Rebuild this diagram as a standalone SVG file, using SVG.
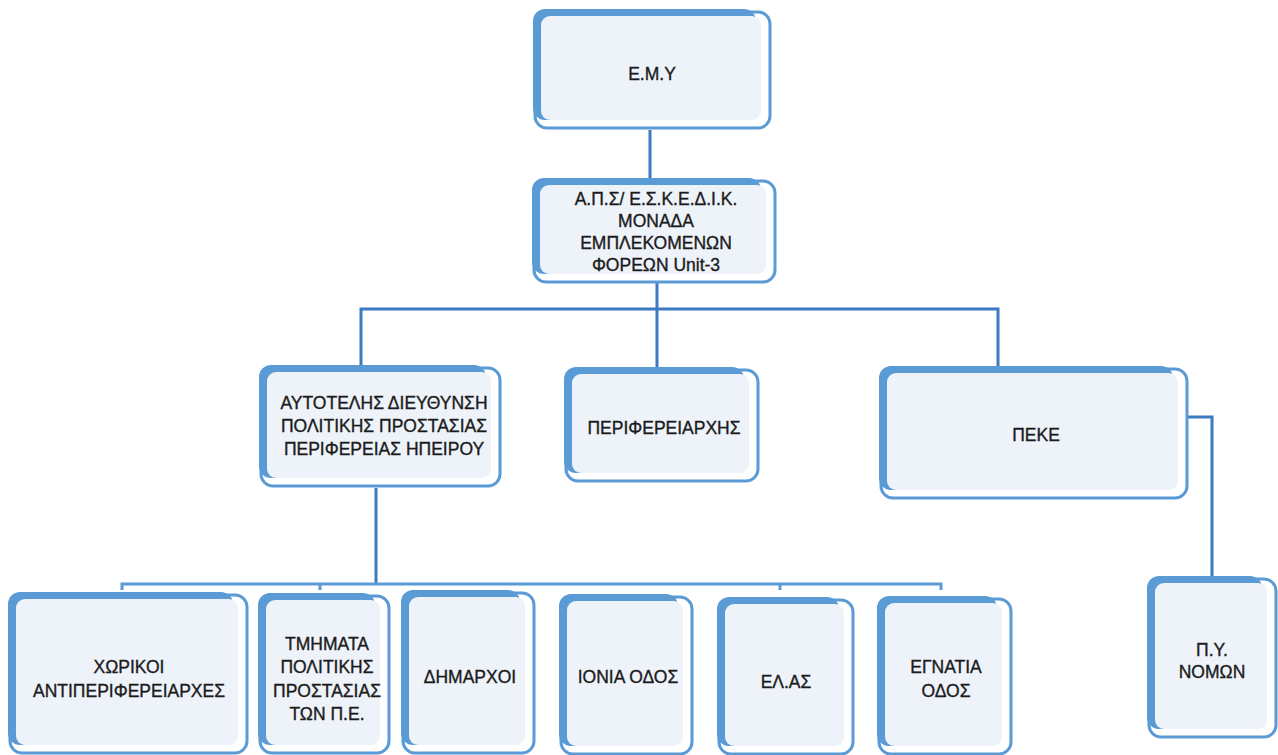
<svg xmlns="http://www.w3.org/2000/svg" width="1278" height="755" viewBox="0 0 1278 755">
<style>
.frame{fill:#ffffff;stroke:#5B9BD5;stroke-width:3}
.blue{fill:#5B9BD5}
.inner{fill:#EEF3FA}
.t{font-family:"Liberation Sans",Arial,sans-serif;font-size:17.5px;fill:#1b1b1b;stroke:#1b1b1b;stroke-width:0.35;text-anchor:middle}
.c{fill:none;stroke:#3B7BBF;stroke-width:3}
.bus{fill:none;stroke:#5B9BD5;stroke-width:3}
</style>
<rect width="1278" height="755" fill="#ffffff"/>
<g id="connectors">
<path class="c" d="M650 130V178"/>
<path class="c" d="M657 283V367M361 366V309H998V366"/>
<path class="c" d="M376 488V584"/>
<path class="bus" d="M122 590V584H941V590M320 584V590M780 584V590"/>
<path class="c" d="M1187 417H1212V577"/>
</g>
<g id="n-emy">
<rect class="frame" x="535" y="12" width="235" height="116" rx="12"/>
<rect class="blue" x="533" y="9" width="223" height="111" rx="12"/>
<rect class="inner" x="541" y="16" width="220" height="104" rx="9"/>
<text class="t" x="652" y="80">Ε.Μ.Υ</text>
</g>
<g id="n-aps">
<rect class="frame" x="534" y="181" width="241" height="101" rx="12"/>
<rect class="blue" x="532" y="178" width="229" height="96" rx="12"/>
<rect class="inner" x="540" y="185" width="226" height="89" rx="9"/>
<text class="t" x="656" y="205">Α.Π.Σ/ Ε.Σ.Κ.Ε.Δ.Ι.Κ.</text>
<text class="t" x="656" y="227">ΜΟΝΑΔΑ</text>
<text class="t" x="656" y="249">ΕΜΠΛΕΚΟΜΕΝΩΝ</text>
<text class="t" x="656" y="271">ΦΟΡΕΩΝ Unit-3</text>
</g>
<g id="n-autoteles">
<rect class="frame" x="261" y="368" width="239" height="118" rx="12"/>
<rect class="blue" x="259" y="365" width="227" height="113" rx="12"/>
<rect class="inner" x="267" y="372" width="224" height="106" rx="9"/>
<text class="t" x="384" y="409">ΑΥΤΟΤΕΛΗΣ ΔΙΕΥΘΥΝΣΗ</text>
<text class="t" x="384" y="432">ΠΟΛΙΤΙΚΗΣ ΠΡΟΣΤΑΣΙΑΣ</text>
<text class="t" x="384" y="455">ΠΕΡΙΦΕΡΕΙΑΣ ΗΠΕΙΡΟΥ</text>
</g>
<g id="n-perifereiarxis">
<rect class="frame" x="566" y="370" width="192" height="111" rx="12"/>
<rect class="blue" x="564" y="367" width="180" height="106" rx="12"/>
<rect class="inner" x="572" y="374" width="177" height="99" rx="9"/>
<text class="t" x="664" y="434">ΠΕΡΙΦΕΡΕΙΑΡΧΗΣ</text>
</g>
<g id="n-peke">
<rect class="frame" x="881" y="369" width="306" height="129" rx="12"/>
<rect class="blue" x="879" y="366" width="294" height="124" rx="12"/>
<rect class="inner" x="887" y="373" width="291" height="117" rx="9"/>
<text class="t" x="1036" y="441">ΠΕΚΕ</text>
</g>
<g id="n-xorikoi">
<rect class="frame" x="10" y="595" width="237" height="158" rx="12"/>
<rect class="blue" x="8" y="592" width="225" height="153" rx="12"/>
<rect class="inner" x="16" y="599" width="222" height="146" rx="9"/>
<text class="t" x="129" y="673">ΧΩΡΙΚΟΙ</text>
<text class="t" x="129" y="697">ΑΝΤΙΠΕΡΙΦΕΡΕΙΑΡΧΕΣ</text>
</g>
<g id="n-tmimata">
<rect class="frame" x="260" y="596" width="129" height="157" rx="12"/>
<rect class="blue" x="258" y="593" width="117" height="152" rx="12"/>
<rect class="inner" x="266" y="600" width="114" height="145" rx="9"/>
<text class="t" x="327" y="650">ΤΜΗΜΑΤΑ</text>
<text class="t" x="327" y="673">ΠΟΛΙΤΙΚΗΣ</text>
<text class="t" x="327" y="697">ΠΡΟΣΤΑΣΙΑΣ</text>
<text class="t" x="327" y="720">ΤΩΝ Π.Ε.</text>
</g>
<g id="n-dimarxoi">
<rect class="frame" x="403" y="593" width="131" height="160" rx="12"/>
<rect class="blue" x="401" y="590" width="119" height="155" rx="12"/>
<rect class="inner" x="409" y="597" width="116" height="148" rx="9"/>
<text class="t" x="470" y="683">ΔΗΜΑΡΧΟΙ</text>
</g>
<g id="n-ionia">
<rect class="frame" x="561" y="597" width="131" height="157" rx="12"/>
<rect class="blue" x="559" y="594" width="119" height="152" rx="12"/>
<rect class="inner" x="567" y="601" width="116" height="145" rx="9"/>
<text class="t" x="628" y="683">ΙΟΝΙΑ ΟΔΟΣ</text>
</g>
<g id="n-elas">
<rect class="frame" x="719" y="600" width="134" height="154" rx="12"/>
<rect class="blue" x="717" y="597" width="122" height="149" rx="12"/>
<rect class="inner" x="725" y="604" width="119" height="142" rx="9"/>
<text class="t" x="786" y="688">ΕΛ.ΑΣ</text>
</g>
<g id="n-egnatia">
<rect class="frame" x="879" y="599" width="132" height="155" rx="12"/>
<rect class="blue" x="877" y="596" width="120" height="150" rx="12"/>
<rect class="inner" x="885" y="603" width="117" height="143" rx="9"/>
<text class="t" x="946" y="673">ΕΓΝΑΤΙΑ</text>
<text class="t" x="946" y="697">ΟΔΟΣ</text>
</g>
<g id="n-py">
<rect class="frame" x="1149" y="579" width="127" height="158" rx="12"/>
<rect class="blue" x="1147" y="576" width="115" height="153" rx="12"/>
<rect class="inner" x="1155" y="583" width="112" height="146" rx="9"/>
<text class="t" x="1212" y="656">Π.Υ.</text>
<text class="t" x="1212" y="678">ΝΟΜΩΝ</text>
</g>
</svg>
